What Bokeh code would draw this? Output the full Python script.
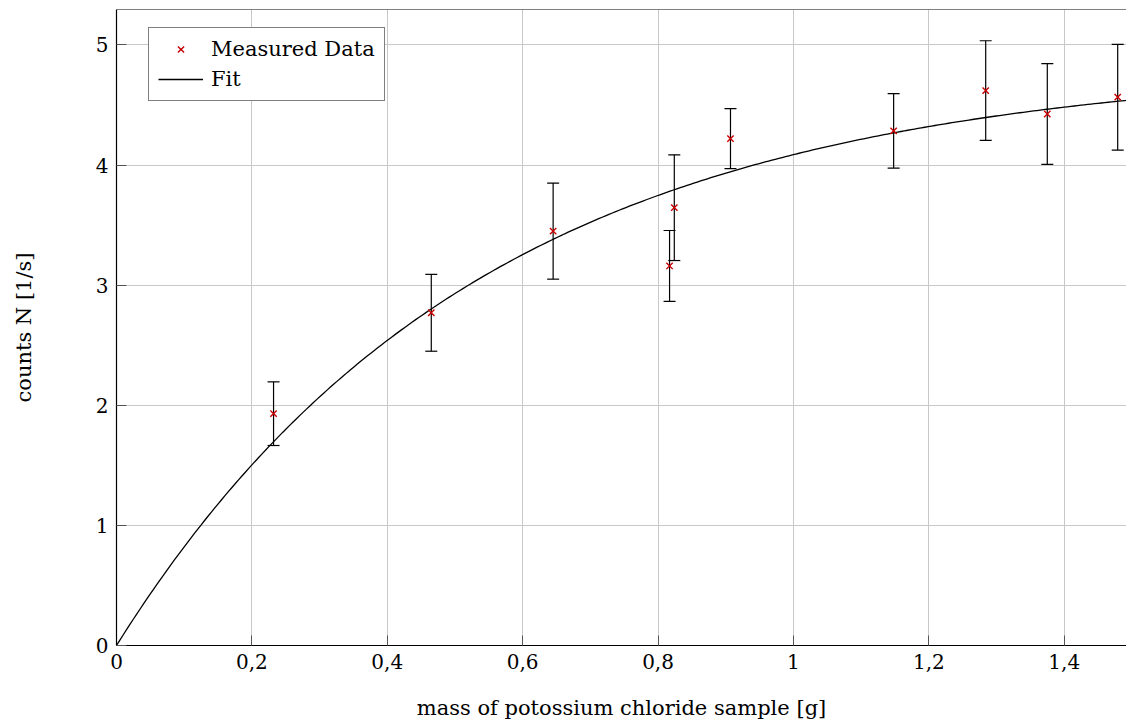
import numpy as np
import pandas as pd
from bokeh.plotting import figure
from bokeh.models import (ColumnDataSource, Whisker, TeeHead, FixedTicker,
                          Range1d, Legend, LegendItem, Span)
from bokeh.embed import file_html
from bokeh.resources import INLINE

# ---- data ----
mass = [0.232, 0.465, 0.645, 0.817, 0.824, 0.907, 1.148, 1.284, 1.375, 1.479]
counts = [1.93, 2.77, 3.45, 3.16, 3.645, 4.22, 4.285, 4.62, 4.425, 4.565]
count_err = [0.265, 0.32, 0.40, 0.295, 0.44, 0.25, 0.31, 0.415, 0.42, 0.44]

# fit model N = A * (1 - exp(-B m))
fit_A = 4.84
fit_B = 1.86

x_ticks = [0, 0.2, 0.4, 0.6, 0.8, 1.0, 1.2, 1.4]
x_tick_labels = ["0", "0,2", "0,4", "0,6", "0,8", "1", "1,2", "1,4"]
y_ticks = [0, 1, 2, 3, 4, 5]
y_tick_labels = ["0", "1", "2", "3", "4", "5"]

x_label = "mass of potossium chloride sample [g]"
y_label = "counts N [1/s]"

X_END = 1.492
Y_END = 5.295

FONT = "DejaVu Serif"

df = pd.DataFrame({"mass": mass, "counts": counts, "err": count_err})
df["upper"] = df["counts"] + df["err"]
df["lower"] = df["counts"] - df["err"]
src = ColumnDataSource(df)

fit_x = np.linspace(0, 1.5, 300)
fit_y = fit_A * (1 - np.exp(-fit_B * fit_x))
fit_src = ColumnDataSource({"x": fit_x, "y": fit_y})

p = figure(width=1126, height=722, output_backend="svg", toolbar_location=None,
           x_range=Range1d(0, X_END), y_range=Range1d(0, Y_END),
           min_border_left=116, min_border_right=0, min_border_top=9, min_border_bottom=76)
p.outline_line_color = None
p.background_fill_color = "white"
p.border_fill_color = "white"

# grid
for g in (p.xgrid, p.ygrid):
    g.grid_line_color = "#c8c8c8"
    g.grid_line_width = 1
p.xgrid.ticker = FixedTicker(ticks=x_ticks)
p.ygrid.ticker = FixedTicker(ticks=y_ticks)

# axes
p.xaxis.ticker = FixedTicker(ticks=x_ticks)
p.yaxis.ticker = FixedTicker(ticks=y_ticks)
p.xaxis.major_label_overrides = dict(zip(x_ticks, x_tick_labels))
p.yaxis.major_label_overrides = dict(zip(y_ticks, y_tick_labels))
p.xaxis.axis_label = x_label
p.yaxis.axis_label = y_label
for ax in (p.xaxis[0], p.yaxis[0]):
    ax.axis_line_color = "black"
    ax.axis_line_width = 1.2
    ax.major_tick_in = 10
    ax.major_tick_out = 0
    ax.major_tick_line_color = "#555555"
    ax.minor_tick_line_color = None
    ax.major_label_text_font = FONT
    ax.major_label_text_font_size = "20px"
    ax.major_label_text_color = "black"
    ax.axis_label_text_font = FONT
    ax.axis_label_text_font_size = "21px"
    ax.axis_label_text_font_style = "normal"
    ax.axis_label_text_color = "black"
    ax.major_label_standoff = 8
p.xaxis.axis_label_standoff = 24
p.yaxis.axis_label_standoff = 57

# top frame line
p.add_layout(Span(location=Y_END, dimension="width", line_color="black", line_width=1.2))

# fit line
fit_r = p.line("x", "y", source=fit_src, line_color="black", line_width=1.3)

# error bars
wh = Whisker(base="mass", upper="upper", lower="lower", source=src,
             line_color="black", line_width=1.2,
             upper_head=TeeHead(size=12, line_color="black", line_width=1.2),
             lower_head=TeeHead(size=12, line_color="black", line_width=1.2))
p.add_layout(wh)

# measured points
pts = p.scatter("mass", "counts", source=src, marker="x", size=9,
                line_color="#c80000", line_width=1.4)

legend = Legend(items=[LegendItem(label="Measured Data", renderers=[pts]),
                       LegendItem(label="Fit", renderers=[fit_r])],
                location=(32, 544))
legend.border_line_color = "black"
legend.border_line_width = 1
legend.background_fill_alpha = 1
legend.label_text_font = FONT
legend.label_text_font_size = "21px"
legend.label_text_color = "black"
legend.glyph_width = 45
legend.glyph_height = 22
legend.label_height = 22
legend.spacing = 6
legend.padding = 9
legend.margin = 0
legend.label_standoff = 8
p.add_layout(legend)

open("out.html", "w").write(file_html(p, INLINE))
